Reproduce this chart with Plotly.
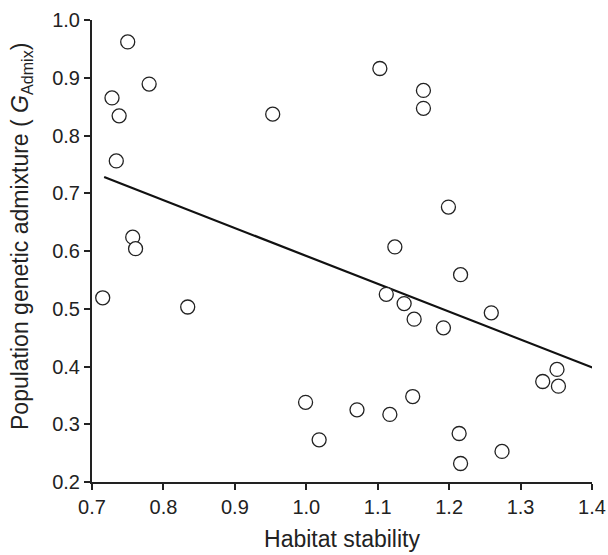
import plotly.graph_objects as go

habitat_stability = [0.750, 0.780, 0.728, 0.738, 0.734, 0.953, 0.757, 0.761,
                     1.103, 1.164, 1.164, 1.199, 1.124, 1.216,
                     0.715, 0.834,
                     1.112, 1.137, 1.151, 1.192, 1.259, 1.351, 1.331, 1.353,
                     0.999, 1.071, 1.117, 1.149, 1.018, 1.214, 1.216, 1.274]
admixture = [0.962, 0.889, 0.865, 0.834, 0.756, 0.837, 0.624, 0.604,
             0.916, 0.878, 0.847, 0.676, 0.607, 0.559,
             0.519, 0.503,
             0.525, 0.509, 0.482, 0.467, 0.493, 0.395, 0.374, 0.366,
             0.338, 0.325, 0.317, 0.348, 0.273, 0.284, 0.232, 0.253]

fit_x = [0.717, 1.405]
fit_y = [0.728, 0.396]

x_ticks = [0.7, 0.8, 0.9, 1.0, 1.1, 1.2, 1.3, 1.4]
y_ticks = [0.2, 0.3, 0.4, 0.5, 0.6, 0.7, 0.8, 0.9, 1.0]

fig = go.Figure()
fig.add_trace(go.Scatter(x=fit_x, y=fit_y, mode="lines",
                         line=dict(color="#111111", width=2.2),
                         showlegend=False, hoverinfo="skip", cliponaxis=False))
fig.add_trace(go.Scatter(x=habitat_stability, y=admixture, mode="markers",
                         marker=dict(symbol="circle", size=14, color="white",
                                     line=dict(color="#222222", width=1.3)),
                         showlegend=False, cliponaxis=False))

font_family = "Liberation Sans, Arial, sans-serif"
fig.update_layout(
    width=608, height=555,
    margin=dict(l=92, r=16, t=20, b=73),
    plot_bgcolor="white", paper_bgcolor="white",
    font=dict(family=font_family, color="#222222", size=20),
    xaxis=dict(range=[0.7, 1.4], tickvals=x_ticks,
               ticktext=[f"{v:.1f}" for v in x_ticks],
               showgrid=False, zeroline=False, showline=True,
               linecolor="#222222", linewidth=2, ticks="outside",
               ticklen=6, tickwidth=2, tickcolor="#222222",
               tickfont=dict(size=20), automargin=False,
               title=dict(text="Habitat stability", font=dict(size=23), standoff=14)),
    yaxis=dict(range=[0.2, 1.0], tickvals=y_ticks,
               ticktext=[f"{v:.1f}" for v in y_ticks],
               showgrid=False, zeroline=False, showline=True,
               linecolor="#222222", linewidth=2, ticks="outside",
               ticklen=6, tickwidth=2, tickcolor="#222222",
               tickfont=dict(size=20), automargin=False),
    annotations=[dict(text="Population genetic admixture ( <i>G</i><sub>Admix</sub>)",
                      textangle=-90, xref="paper", yref="paper",
                      x=(21 - 92) / 500, y=(482 - 237) / 462,
                      xanchor="center", yanchor="middle", showarrow=False,
                      font=dict(size=23, color="#222222"))],
)

fig.write_html("out.html",
               config={"displayModeBar": False},
               post_script="document.body.style.margin='0';document.body.style.overflow='hidden';")
